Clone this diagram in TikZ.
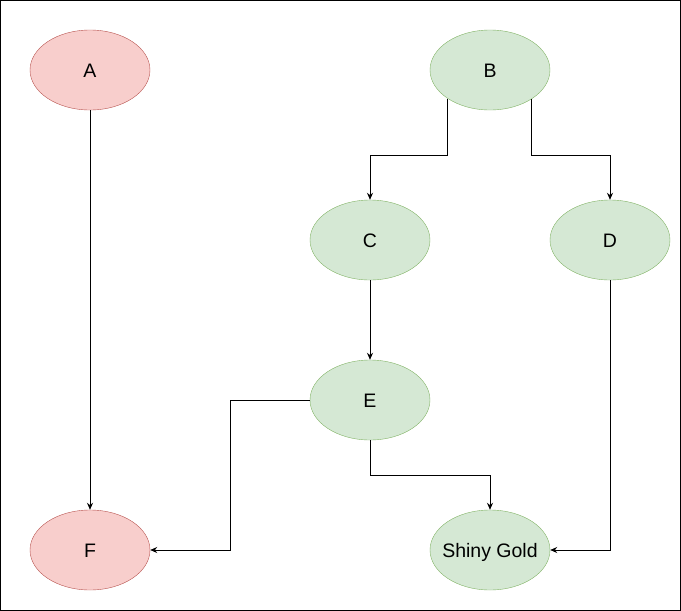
\documentclass[tikz,border=0pt]{standalone}
\usepackage{fontspec}
\setmainfont{Liberation Sans}
\usetikzlibrary{arrows.meta,shapes.geometric}
\definecolor{redfill}{HTML}{F8CECC}
\definecolor{redline}{HTML}{B85450}
\definecolor{greenfill}{HTML}{D5E8D4}
\definecolor{greenline}{HTML}{82B366}
\tikzset{
  ell/.style={ellipse, minimum width=120pt, minimum height=80pt, inner xsep=-20pt, inner ysep=0pt,
    text height=14pt, text depth=0pt, font=\fontsize{19.5}{22}\selectfont},
  redell/.style={ell, draw=redline, fill=redfill},
  greenell/.style={ell, draw=greenline, fill=greenfill},
  conn/.style={draw=black, line width=0.9pt, -{Stealth[length=7pt,width=6pt]}}
}
\begin{document}
\begin{tikzpicture}[x=1pt,y=-1pt]
\useasboundingbox (0,0) rectangle (681,611);
\draw[line width=1pt] (0.5,0.5) rectangle (680,610);
\node[redell] (A) at (90,70) {A};
\node[greenell] (B) at (490,70) {B};
\node[greenell] (C) at (370,240) {C};
\node[greenell] (D) at (610,240) {D};
\node[greenell] (E) at (370,400) {E};
\node[redell] (F) at (90,550) {F};
\node[greenell] (G) at (490,550) {Shiny Gold};
\coordinate (y155) at (0,155);
\coordinate (x230) at (230,0);
\coordinate (y475) at (0,475);
\draw[conn] (A) -- (F);
\draw[conn] (B.214.3) -- (B.214.3 |- y155) -| (C.north);
\draw[conn] (B.325.7) -- (B.325.7 |- y155) -| (D.north);
\draw[conn] (C) -- (E);
\draw[conn] (E.west) -- (E.west -| x230) |- (F.east);
\draw[conn] (E.south) -- (E.south |- y475) -| (G.north);
\draw[conn] (D.south) |- (G.east);
\end{tikzpicture}
\end{document}
